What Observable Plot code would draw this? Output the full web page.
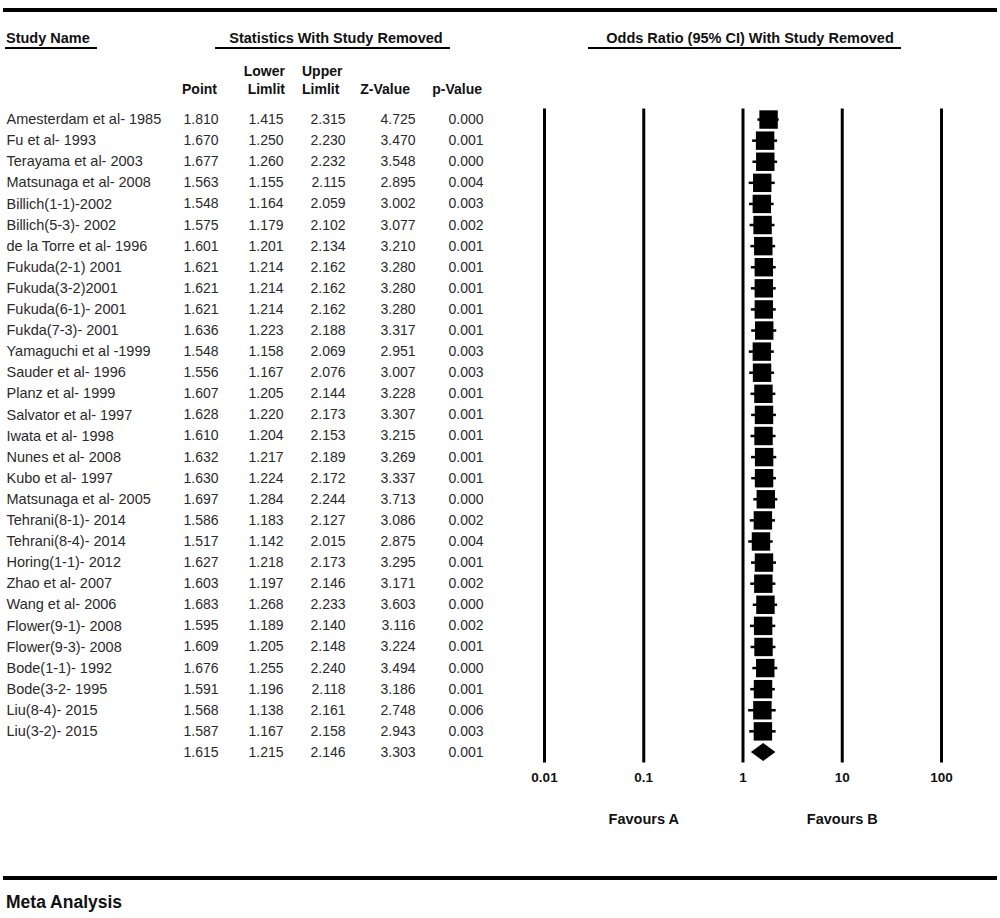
<!DOCTYPE html>
<html><head><meta charset="utf-8">
<script src="https://cdn.jsdelivr.net/npm/d3@7"></script>
<script src="https://cdn.jsdelivr.net/npm/@observablehq/plot@0.6"></script>
<style>
body{margin:0;background:#fff;font-family:"Liberation Sans",Arial,sans-serif;}
#page{position:relative;width:1000px;height:918px;overflow:hidden;background:#fff;}
.abs{position:absolute;white-space:nowrap;line-height:16px;}
.hb{font-weight:bold;font-size:14px;color:#111;}
.bar{position:absolute;background:#000;}
.r{transform:translateX(-100%);}
.c{transform:translateX(-50%);}
#table,#forest{position:absolute;top:100px;}
#table{left:0;} #forest{left:500px;}
</style></head><body><div id="page">
<div class="bar" style="left:3px;top:8px;width:994px;height:4px"></div>
<div class="abs hb" style="left:6px;top:30px;font-size:14.5px">Study Name</div>
<div class="bar" style="left:5px;top:47px;width:92px;height:1.5px"></div>
<div class="abs hb c" style="left:336px;top:30px;font-size:14.5px">Statistics With Study Removed</div>
<div class="bar" style="left:215px;top:47px;width:235px;height:1.5px"></div>
<div class="abs hb c" style="left:750px;top:30px;font-size:14.5px">Odds Ratio (95% CI) With Study Removed</div>
<div class="bar" style="left:588px;top:47px;width:313px;height:1.5px"></div>
<div id="headers"></div>
<div id="table"></div>
<div id="forest"></div>
<div class="bar" style="left:3px;top:876px;width:994px;height:4px"></div>
<div class="abs hb" style="left:6px;top:893px;font-size:17.5px;line-height:18px">Meta Analysis</div>
</div>
<script>
// ---- data ----
const studies = ["Amesterdam et al- 1985","Fu et al- 1993","Terayama et al- 2003","Matsunaga et al- 2008","Billich(1-1)-2002","Billich(5-3)- 2002","de la Torre et al- 1996","Fukuda(2-1) 2001","Fukuda(3-2)2001","Fukuda(6-1)- 2001","Fukda(7-3)- 2001","Yamaguchi et al -1999","Sauder et al- 1996","Planz et al- 1999","Salvator et al- 1997","Iwata et al- 1998","Nunes et al- 2008","Kubo et al- 1997","Matsunaga et al- 2005","Tehrani(8-1)- 2014","Tehrani(8-4)- 2014","Horing(1-1)- 2012","Zhao et al- 2007","Wang et al- 2006","Flower(9-1)- 2008","Flower(9-3)- 2008","Bode(1-1)- 1992","Bode(3-2- 1995","Liu(8-4)- 2015","Liu(3-2)- 2015"];
const point  = [1.810,1.670,1.677,1.563,1.548,1.575,1.601,1.621,1.621,1.621,1.636,1.548,1.556,1.607,1.628,1.610,1.632,1.630,1.697,1.586,1.517,1.627,1.603,1.683,1.595,1.609,1.676,1.591,1.568,1.587];
const lower  = [1.415,1.250,1.260,1.155,1.164,1.179,1.201,1.214,1.214,1.214,1.223,1.158,1.167,1.205,1.220,1.204,1.217,1.224,1.284,1.183,1.142,1.218,1.197,1.268,1.189,1.205,1.255,1.196,1.138,1.167];
const upper  = [2.315,2.230,2.232,2.115,2.059,2.102,2.134,2.162,2.162,2.162,2.188,2.069,2.076,2.144,2.173,2.153,2.189,2.172,2.244,2.127,2.015,2.173,2.146,2.233,2.140,2.148,2.240,2.118,2.161,2.158];
const zValue = [4.725,3.470,3.548,2.895,3.002,3.077,3.210,3.280,3.280,3.280,3.317,2.951,3.007,3.228,3.307,3.215,3.269,3.337,3.713,3.086,2.875,3.295,3.171,3.603,3.116,3.224,3.494,3.186,2.748,2.943];
const pValue = [0.000,0.001,0.000,0.004,0.003,0.002,0.001,0.001,0.001,0.001,0.001,0.003,0.003,0.001,0.001,0.001,0.001,0.001,0.000,0.002,0.004,0.001,0.002,0.000,0.002,0.001,0.000,0.001,0.006,0.003];
const summaryStats = [1.615,1.215,2.146,3.303,0.001]; // point, lower, upper, z, p
const columnHeaders = [["","Point"],["Lower","Limlit"],["Upper","Limlit"],["","Z-Value"],["","p-Value"]];
const axisTicks = [0.01,0.1,1,10,100];
const favours = ["Favours A","Favours B"];
const favoursAt = [0.1,10];

// ---- layout constants ----
const colX = [6,218,283,345,415,483];
const hdrPos = [[217,"r"],[285,"r"],[302,"l"],[410,"r"],[482,"r"]];
const H = 740, MT = 8.5, MB = 77.5;
const nRows = studies.length + 1;
const yScale = {type:"linear", domain:[-0.5, nRows - 0.5], reverse:true};
const font = '"Liberation Sans", Arial, sans-serif';

// headers
const hd = document.getElementById("headers");
columnHeaders.forEach((h, j) => {
  h.forEach((t, k) => {
    if (!t) return;
    const d = document.createElement("div");
    d.className = "abs hb" + (hdrPos[j][1] === "r" ? " r" : "");
    d.style.left = hdrPos[j][0] + "px";
    d.style.top = (k === 0 ? 63 : 81) + "px";
    d.textContent = t;
    hd.appendChild(d);
  });
});

// table cells
const fmt = d3.format(".3f");
const cells = [];
studies.forEach((s, i) => {
  [point[i], lower[i], upper[i], zValue[i], pValue[i]].forEach((v, j) => cells.push({row:i, col:j+1, v}));
});
summaryStats.forEach((v, j) => cells.push({row:studies.length, col:j+1, v}));
const names = studies.map((s, i) => ({row:i, col:0, s}));

const table = Plot.plot({
  width:500, height:H, marginTop:MT, marginBottom:MB, marginLeft:0, marginRight:0,
  x:{type:"linear", domain:[0,1,2,3,4,5], range:colX, axis:null},
  y:{...yScale, axis:null},
  style:{fontFamily:font, fontSize:"14px", background:"transparent", overflow:"visible"},
  marks:[
    Plot.text(names, {x:"col", y:"row", text:"s", textAnchor:"start", fill:"#2a2a2a", fontSize:14.5}),
    Plot.text(cells, {x:"col", y:"row", text:d => fmt(d.v), textAnchor:"end", fill:"#2a2a2a"})
  ]
});
document.getElementById("table").appendChild(table);

// forest
const rows = studies.map((s, i) => ({row:i, pt:point[i], lo:lower[i], hi:upper[i]}));
const sr = studies.length, half = 0.43;
const diamond = [
  {y:sr - half, x1:summaryStats[0], x2:summaryStats[0]},
  {y:sr, x1:summaryStats[1], x2:summaryStats[2]},
  {y:sr + half, x1:summaryStats[0], x2:summaryStats[0]}
];
const forest = Plot.plot({
  width:500, height:H, marginTop:MT, marginBottom:MB, marginLeft:44, marginRight:59,
  x:{type:"log", domain:[0.01,100]},
  y:{...yScale, axis:null},
  style:{fontFamily:font, fontSize:"13.5px", fontWeight:"bold", background:"transparent", overflow:"visible", color:"#111"},
  marks:[
    Plot.ruleX(axisTicks, {strokeWidth:3, stroke:"#000"}),
    Plot.ruleY(rows, {y:"row", x1:"lo", x2:"hi", strokeWidth:2.5, stroke:"#000"}),
    Plot.dot(rows, {x:"pt", y:"row", symbol:"square", r:10.4, fill:"#000", stroke:null}),
    Plot.areaX(diamond, {y:"y", x1:"x1", x2:"x2", fill:"#000", curve:"linear"}),
    Plot.axisX({ticks:axisTicks, tickFormat:d => String(d), tickSize:0, tickPadding:9, label:null, fill:"#111"}),
    Plot.text(favours, {x:(d, i) => favoursAt[i], text:d => d, frameAnchor:"bottom", dy:61, fontSize:14.5, fill:"#111"})
  ]
});
document.getElementById("forest").appendChild(forest);
</script>
</body></html>
